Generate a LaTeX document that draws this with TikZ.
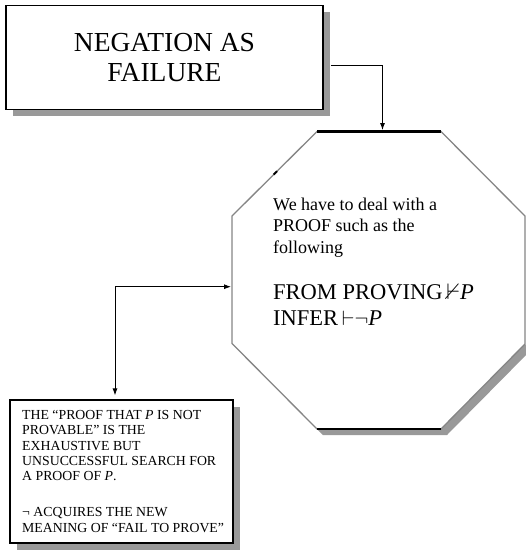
\documentclass[tikz,border=0pt]{standalone}
\usepackage{fontspec}
\setmainfont{Liberation Serif}
\usepackage{amssymb}
\usetikzlibrary{positioning, arrows.meta, shadows, calc}
\tikzset{
  headbox/.style={rectangle, draw, line width=1.8pt, fill=white, minimum width=317pt, minimum height=104pt, align=center, font=\fontsize{27.5}{30}\selectfont, drop shadow={shadow xshift=7pt, shadow yshift=-6pt, fill=black!40, opacity=1}},
  notebox/.style={rectangle, draw, line width=1.3pt, fill=white, minimum width=223pt, minimum height=143pt, drop shadow={shadow xshift=7pt, shadow yshift=-7pt, fill=black!40, opacity=1}},
  notetext/.style={inner sep=0pt, align=left, font=\fontsize{13.8}{15.4}\selectfont},
  octtext/.style={inner sep=0pt, align=left, font=\fontsize{18}{21.5}\selectfont},
  ruletext/.style={inner sep=0pt, align=left, font=\fontsize{22.5}{26}\selectfont},
  arrow/.style={-{Latex[length=7pt, width=5pt]}, line width=0.8pt},
  twoarrow/.style={{Latex[length=7pt, width=5pt]}-{Latex[length=7pt, width=5pt]}, line width=0.8pt},
}

\begin{document}
\begin{tikzpicture}[x=1pt, y=-1pt]
  \useasboundingbox (0,0) rectangle (526,552);

  % Title
  \node[headbox] (title) at (164.5,57.5) {NEGATION AS\\FAILURE};

  % Octagon
  \coordinate (o1) at (317,131.5);
  \coordinate (o2) at (441,131.5);
  \coordinate (o3) at (525,216);
  \coordinate (o4) at (525,344);
  \coordinate (o5) at (441,429);
  \coordinate (o6) at (317,429);
  \coordinate (o7) at (232,343.5);
  \coordinate (o8) at (232,216);
  \coordinate (octtop) at (382.5,130);
  \coordinate (octleft) at (231,286.7);

  \fill[black!40] (o4) -- (o5) -- (o6) -- ([xshift=6pt, yshift=-6pt]o6) -- ([xshift=6pt, yshift=-6pt]o5) -- ([xshift=6pt, yshift=-6pt]o4) -- cycle;
  \filldraw[fill=white, draw=black!48, line width=1.3pt] (o1) -- (o2) -- (o3) -- (o4) -- (o5) -- (o6) -- (o7) -- (o8) -- cycle;
  \draw[line width=2.6pt] (o1) -- (o2);
  \draw[line width=2.6pt] (o5) -- (o6);
  \draw[line width=2pt] ($(o8)!0.49!(o1)$) -- ($(o8)!0.53!(o1)$);

  \node[octtext, anchor=north west] (proof) at (273,197.7) {We have to deal with a\\PROOF such as the\\following};
  \node[ruletext, anchor=north west] (rule) at (273,284) {FROM PROVING\,${\nvdash}$\textit{P}\\INFER\,${\vdash}{\neg}$\textit{P}};

  % Note
  \node[notebox] (note) at (121.5,471.5) {};
  \node[notetext, anchor=north west] (notetxt) at (22,410) {THE “PROOF THAT \textit{P} IS NOT\\PROVABLE” IS THE\\EXHAUSTIVE BUT\\UNSUCCESSFUL SEARCH FOR\\A PROOF OF \textit{P}.\\[20.5pt]¬ ACQUIRES THE NEW\\MEANING OF “FAIL TO PROVE”};

  % Arrows
  \draw[arrow, shorten <=7pt] ([yshift=-7.5pt]title.east) -| (octtop);
  \draw[twoarrow, shorten <=4pt] ([xshift=-6.5pt]note.north) |- (octleft);
\end{tikzpicture}
\end{document}
